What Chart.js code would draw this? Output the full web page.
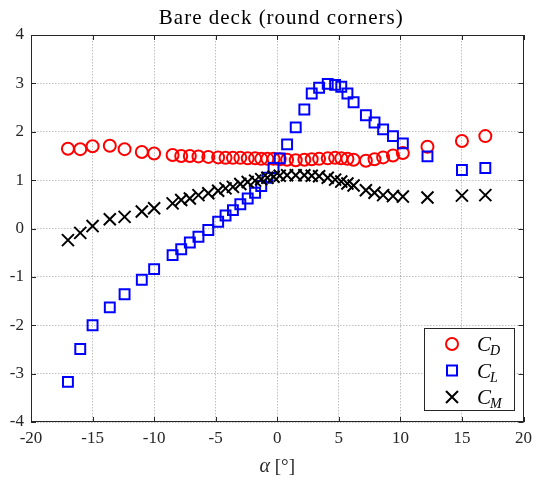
<!DOCTYPE html>
<html>
<head>
<meta charset="utf-8">
<script src="https://cdn.jsdelivr.net/npm/chart.js@4/dist/chart.umd.min.js"></script>
<style>
  html, body { margin: 0; padding: 0; background: #fff; }
  #c { display: block; }
</style>
</head>
<body>
<canvas id="c" width="538" height="486"></canvas>
<script>
// Angle of attack [deg]
const alpha = [-17, -16, -15, -13.6, -12.4, -11, -10, -8.5, -7.8, -7.1, -6.4, -5.6, -4.8, -4.2, -3.6, -3.0,
  -2.4, -1.8, -1.3, -0.8, -0.3, 0.2, 0.8, 1.5, 2.2, 2.8, 3.4, 4.1, 4.7, 5.2, 5.7, 6.2, 7.2, 7.9, 8.6, 9.4,
  10.2, 12.2, 15.0, 16.9];

// Drag coefficient
const cD = [1.65, 1.64, 1.70, 1.71, 1.64, 1.58, 1.55, 1.52, 1.50, 1.50, 1.49, 1.48, 1.47, 1.46, 1.46, 1.46,
  1.45, 1.45, 1.44, 1.44, 1.44, 1.43, 1.42, 1.41, 1.42, 1.43, 1.44, 1.45, 1.46, 1.45, 1.44, 1.42, 1.40, 1.43,
  1.47, 1.51, 1.56, 1.69, 1.81, 1.91];

// Lift coefficient
const cL = [-3.17, -2.49, -2.00, -1.63, -1.36, -1.06, -0.84, -0.55, -0.43, -0.29, -0.17, -0.03, 0.14, 0.27,
  0.38, 0.50, 0.62, 0.74, 0.88, 1.05, 1.25, 1.45, 1.74, 2.09, 2.46, 2.79, 2.91, 2.99, 2.97, 2.93, 2.79, 2.61,
  2.34, 2.19, 2.05, 1.91, 1.76, 1.49, 1.21, 1.25];

// Moment coefficient
const cM = [-0.24, -0.09, 0.05, 0.19, 0.24, 0.35, 0.42, 0.52, 0.59, 0.62, 0.69, 0.73, 0.78, 0.83, 0.86, 0.92,
  0.96, 0.99, 1.02, 1.05, 1.07, 1.09, 1.10, 1.10, 1.10, 1.09, 1.08, 1.05, 1.01, 0.97, 0.93, 0.89, 0.79, 0.74,
  0.69, 0.67, 0.66, 0.64, 0.68, 0.69];

const xTicks = [-20, -15, -10, -5, 0, 5, 10, 15, 20];
const yTicks = [-4, -3, -2, -1, 0, 1, 2, 3, 4];

const titleText = 'Bare deck (round corners)';
const serif = '"Liberation Serif", "DejaVu Serif", serif';
const axisInk = '#262626';

const toPoints = (vals) => alpha.map((a, i) => ({ x: a, y: vals[i] }));

// Box, inward ticks, title, axis label and legend in the MATLAB style
const frame = {
  id: 'frame',
  afterDraw(chart) {
    const { ctx, chartArea: a, scales: { x, y } } = chart;
    ctx.save();
    ctx.strokeStyle = axisInk;
    ctx.lineWidth = 1;
    // tick marks pointing into the plot on all four sides
    const tl = 5;
    ctx.beginPath();
    xTicks.forEach(v => {
      const px = Math.round(x.getPixelForValue(v)) + 0.5;
      ctx.moveTo(px, a.bottom); ctx.lineTo(px, a.bottom - tl);
      ctx.moveTo(px, a.top); ctx.lineTo(px, a.top + tl);
    });
    yTicks.forEach(v => {
      const py = Math.round(y.getPixelForValue(v)) + 0.5;
      ctx.moveTo(a.left, py); ctx.lineTo(a.left + tl, py);
      ctx.moveTo(a.right, py); ctx.lineTo(a.right - tl, py);
    });
    ctx.stroke();
    ctx.strokeRect(Math.round(a.left) + 0.5, Math.round(a.top) + 0.5,
      Math.round(a.right - a.left) - 1, Math.round(a.bottom - a.top) - 1);

    // title
    const cx = (a.left + a.right) / 2;
    ctx.fillStyle = '#000';
    ctx.font = '21px ' + serif;
    ctx.letterSpacing = '1px';
    ctx.textAlign = 'center';
    ctx.textBaseline = 'alphabetic';
    ctx.fillText(titleText, cx + 4, 24);
    ctx.letterSpacing = '0px';

    // x axis label: italic alpha followed by [°]
    ctx.fillStyle = axisInk;
    ctx.font = 'italic 20px ' + serif;
    const aW = ctx.measureText('α').width;
    ctx.font = '19px ' + serif;
    const rest = ' [°]';
    const rW = ctx.measureText(rest).width;
    const startX = cx - (aW + rW) / 2;
    ctx.textAlign = 'left';
    ctx.font = 'italic 20px ' + serif;
    ctx.fillText('α', startX, 472);
    ctx.font = '19px ' + serif;
    ctx.fillText(rest, startX + aW, 472);

    // legend
    const lx = 424.5, ly = 328.5, lw = 90, lh = 82;
    ctx.fillStyle = '#fff';
    ctx.fillRect(lx, ly, lw, lh);
    ctx.strokeStyle = axisInk;
    ctx.lineWidth = 1;
    ctx.strokeRect(lx, ly, lw, lh);
    const rows = [
      { sub: 'D', color: '#ff0000', kind: 'circle' },
      { sub: 'L', color: '#0000ff', kind: 'rect' },
      { sub: 'M', color: '#000000', kind: 'cross' }
    ];
    rows.forEach((r, i) => {
      const my = 344 + i * 26.5;
      const mx = 452;
      ctx.strokeStyle = r.color;
      ctx.lineWidth = 2;
      ctx.beginPath();
      if (r.kind === 'circle') {
        ctx.arc(mx, my, 6, 0, Math.PI * 2);
      } else if (r.kind === 'rect') {
        ctx.rect(mx - 5, my - 5, 10, 10);
      } else {
        ctx.moveTo(mx - 6, my - 6); ctx.lineTo(mx + 6, my + 6);
        ctx.moveTo(mx + 6, my - 6); ctx.lineTo(mx - 6, my + 6);
      }
      ctx.stroke();
      ctx.fillStyle = '#000';
      ctx.textAlign = 'left';
      ctx.font = 'italic 21px ' + serif;
      ctx.fillText('C', 477, my + 7);
      const cW = ctx.measureText('C').width;
      ctx.font = 'italic 14px ' + serif;
      ctx.fillText(r.sub, 477 + cW - 1, my + 11);
    });
    ctx.restore();
  }
};

new Chart(document.getElementById('c'), {
  type: 'scatter',
  data: {
    datasets: [
      {
        label: 'C_D', data: toPoints(cD), order: 3,
        pointStyle: 'circle', pointRadius: 6, pointHoverRadius: 6,
        borderColor: '#ff0000', backgroundColor: 'rgba(0,0,0,0)', pointBorderWidth: 2
      },
      {
        label: 'C_L', data: toPoints(cL), order: 2,
        pointStyle: 'rect', pointRadius: 7, pointHoverRadius: 7,
        borderColor: '#0000ff', backgroundColor: 'rgba(0,0,0,0)', pointBorderWidth: 2
      },
      {
        label: 'C_M', data: toPoints(cM), order: 1,
        pointStyle: 'crossRot', pointRadius: 8.5, pointHoverRadius: 8.5,
        borderColor: '#000000', backgroundColor: '#000000', pointBorderWidth: 2
      }
    ]
  },
  options: {
    responsive: false,
    animation: false,
    events: [],
    layout: { padding: { top: 35, right: 11, left: 0, bottom: 0 } },
    plugins: {
      legend: { display: false },
      title: { display: false },
      tooltip: { enabled: false }
    },
    scales: {
      x: {
        type: 'linear', min: -20, max: 20,
        afterFit(s) { s.height = 64; },
        afterBuildTicks(s) { s.ticks = xTicks.map(v => ({ value: v })); },
        ticks: { color: axisInk, font: { family: serif, size: 17 }, padding: 6, maxRotation: 0 },
        grid: { color: 'rgba(0,0,0,0.25)', lineWidth: 1, drawTicks: false },
        border: { display: false, dash: [1.5, 1.5] }
      },
      y: {
        type: 'linear', min: -4, max: 4,
        afterFit(s) { s.width = 31; },
        afterBuildTicks(s) { s.ticks = yTicks.map(v => ({ value: v })); },
        ticks: { color: axisInk, font: { family: serif, size: 17 }, padding: 7 },
        grid: { color: 'rgba(0,0,0,0.25)', lineWidth: 1, drawTicks: false },
        border: { display: false, dash: [1.5, 1.5] }
      }
    }
  },
  plugins: [frame]
});
</script>
</body>
</html>
